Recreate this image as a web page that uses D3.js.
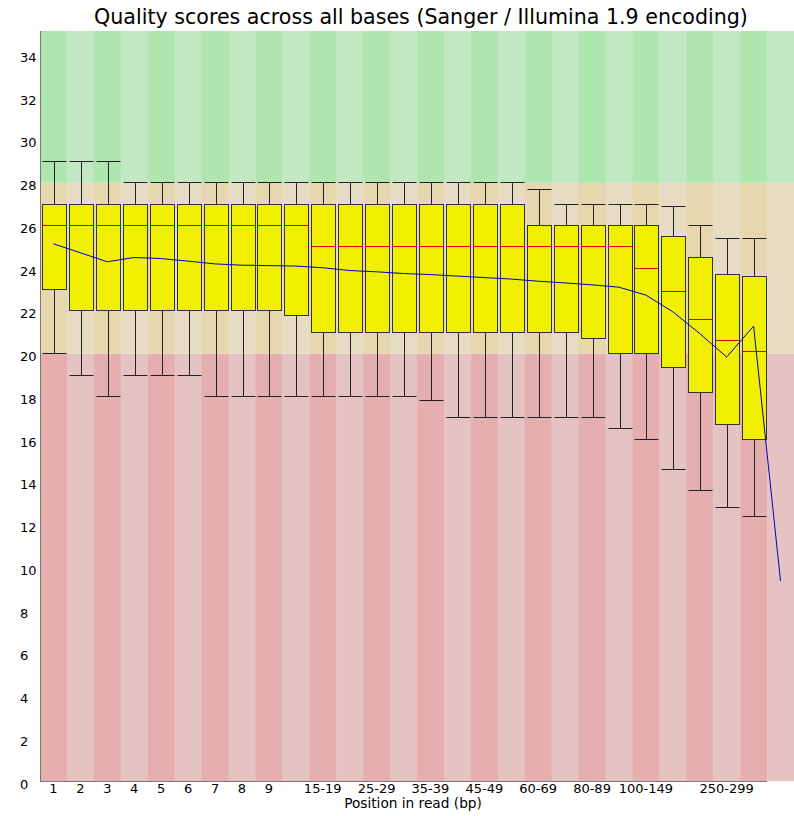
<!DOCTYPE html>
<html>
<head>
<meta charset="utf-8">
<script src="https://cdn.jsdelivr.net/npm/d3@7"></script>
<style>
  body { margin: 0; background: #fff; }
  text { font-family: "DejaVu Sans", sans-serif; fill: #000; }
</style>
</head>
<body>
<div id="chart"></div>
<script>
// per base quality boxplot
//=========================

var positions = ["1", "2", "3", "4", "5", "6", "7", "8", "9", "10-14", "15-19", "20-24", "25-29",
    "30-34", "35-39", "40-44", "45-49", "50-59", "60-69", "70-79", "80-89", "90-99", "100-149",
    "150-199", "200-249", "250-299", "300-349", "350-351"];

// labels that are actually printed under the axis
var shownLabels = ["1", "2", "3", "4", "5", "6", "7", "8", "9", "15-19", "25-29", "35-39", "45-49",
    "60-69", "80-89", "100-149", "250-299"];

var whiskerHigh = [29, 29, 29, 28, 28, 28, 28, 28, 28, 28, 28, 28, 28, 28, 28, 28, 28, 28, 27.7, 27,
    27, 27, 27, 26.9, 26, 25.4, 25.4];
var upperQuartile = [27, 27, 27, 27, 27, 27, 27, 27, 27, 27, 27, 27, 27, 27, 27, 27, 27, 27, 26, 26,
    26, 26, 26, 25.5, 24.5, 23.7, 23.6];
var median = [26, 26, 26, 26, 26, 26, 26, 26, 26, 26, 25, 25, 25, 25, 25, 25, 25, 25, 25, 25,
    25, 25, 24, 22.9, 21.6, 20.6, 20.1];
var lowerQuartile = [23, 22, 22, 22, 22, 22, 22, 22, 22, 21.8, 21, 21, 21, 21, 21, 21, 21, 21, 21, 21,
    20.7, 20, 20, 19.35, 18.2, 16.7, 16];
var whiskerLow = [20, 19, 18, 19, 19, 19, 18, 18, 18, 18, 18, 18, 18, 18, 17.8, 17, 17, 17, 17, 17,
    17, 16.5, 16, 14.6, 13.6, 12.8, 12.4];
var mean = [25.14, 24.72, 24.3, 24.5, 24.45, 24.33, 24.2, 24.14, 24.12, 24.1, 24.02, 23.89, 23.83,
    23.75, 23.7, 23.63, 23.56, 23.49, 23.39, 23.31, 23.22, 23.11, 22.74, 21.96, 20.94, 19.84, 21.29, 9.36];

var yTicks = d3.range(0, 35, 2);

// quality zones: [from, to, light colour, dark colour]
var zones = [
    [0, 20, "rgb(230,195,195)", "rgb(230,175,175)"],
    [20, 28, "rgb(230,220,195)", "rgb(230,215,175)"],
    [28, 35.1, "rgb(195,230,195)", "rgb(175,230,175)"]
];

var svgWidth = 794;
var svgHeight = 816;

var margin = { top: 31, right: 0, bottom: 35, left: 40 };

var svg = d3.select("#chart")
    .append("svg")
    .attr("width", svgWidth)
    .attr("height", svgHeight);

var x = d3.scaleBand()
    .domain(positions)
    .range([margin.left, svgWidth - margin.right])
    .padding(0);

var y = d3.scaleLinear()
    .domain([0, 35.1])
    .range([svgHeight - margin.bottom, margin.top]);

var bw = x.bandwidth();

// snap horizontal lines to the pixel grid
var py = v => Math.floor(y(v)) + 0.5;

// background stripes
zones.forEach(function (z) {
    svg.append("g")
        .selectAll("rect")
        .data(positions)
        .enter()
        .append("rect")
        .attr("x", d => x(d))
        .attr("width", bw + 0.5)
        .attr("y", y(z[1]))
        .attr("height", y(z[0]) - y(z[1]))
        .attr("fill", (d, i) => i % 2 === 0 ? z[3] : z[2]);
});

// boxes
var boxData = whiskerHigh.map(function (v, i) {
    return {
        pos: positions[i], hi: v, q3: upperQuartile[i], med: median[i],
        q1: lowerQuartile[i], lo: whiskerLow[i]
    };
});

var boxes = svg.append("g")
    .selectAll("g")
    .data(boxData)
    .enter()
    .append("g");

var boxLeft = d => Math.round(x(d.pos)) + 2.5;
var boxW = Math.round(bw) - 3;

// whisker stems
boxes.append("line")
    .attr("x1", d => boxLeft(d) + boxW / 2)
    .attr("x2", d => boxLeft(d) + boxW / 2)
    .attr("y1", d => py(d.hi))
    .attr("y2", d => py(d.lo))
    .attr("stroke", "#222")
    .attr("stroke-width", 1);

// whisker caps
["hi", "lo"].forEach(function (k) {
    boxes.append("line")
        .attr("x1", d => boxLeft(d))
        .attr("x2", d => boxLeft(d) + boxW)
        .attr("y1", d => py(d[k]))
        .attr("y2", d => py(d[k]))
        .attr("stroke", "#222")
        .attr("stroke-width", 1);
});

boxes.append("rect")
    .attr("x", d => boxLeft(d))
    .attr("width", boxW)
    .attr("y", d => py(d.q3))
    .attr("height", d => py(d.q1) - py(d.q3))
    .attr("fill", "rgb(240,240,0)")
    .attr("stroke", "#333")
    .attr("stroke-width", 1);

boxes.append("line")
    .attr("x1", d => boxLeft(d))
    .attr("x2", d => boxLeft(d) + boxW)
    .attr("y1", d => py(d.med))
    .attr("y2", d => py(d.med))
    .attr("stroke", "rgb(220,0,0)")
    .attr("stroke-width", 1);

// mean line
var line = d3.line()
    .x((d, i) => x(positions[i]) + bw / 2)
    .y(d => y(d));

svg.append("path")
    .datum(mean)
    .attr("d", line)
    .attr("fill", "none")
    .attr("stroke", "rgb(0,0,200)")
    .attr("stroke-width", 1);

// axes lines
svg.append("line")
    .attr("x1", margin.left + 0.5).attr("x2", margin.left + 0.5)
    .attr("y1", margin.top).attr("y2", y(0))
    .attr("stroke", "#777");

svg.append("line")
    .attr("x1", margin.left).attr("x2", x(positions[positions.length - 1]))
    .attr("y1", y(0) + 0.5).attr("y2", y(0) + 0.5)
    .attr("stroke", "#777");

// y tick labels
svg.append("g")
    .selectAll("text")
    .data(yTicks)
    .enter()
    .append("text")
    .attr("x", 20)
    .attr("y", d => y(d) + 7.5)
    .attr("font-size", 13)
    .text(d => d);

// x tick labels
svg.append("g")
    .selectAll("text")
    .data(shownLabels)
    .enter()
    .append("text")
    .attr("x", d => x(d) + bw / 2)
    .attr("y", 793)
    .attr("text-anchor", "middle")
    .attr("font-size", 13)
    .text(d => d);

// title and axis title
svg.append("text")
    .attr("x", 421)
    .attr("y", 24)
    .attr("text-anchor", "middle")
    .attr("font-size", 20.6)
    .text("Quality scores across all bases (Sanger / Illumina 1.9 encoding)");

svg.append("text")
    .attr("x", 413)
    .attr("y", 808)
    .attr("text-anchor", "middle")
    .attr("font-size", 13.7)
    .text("Position in read (bp)");
</script>
</body>
</html>
